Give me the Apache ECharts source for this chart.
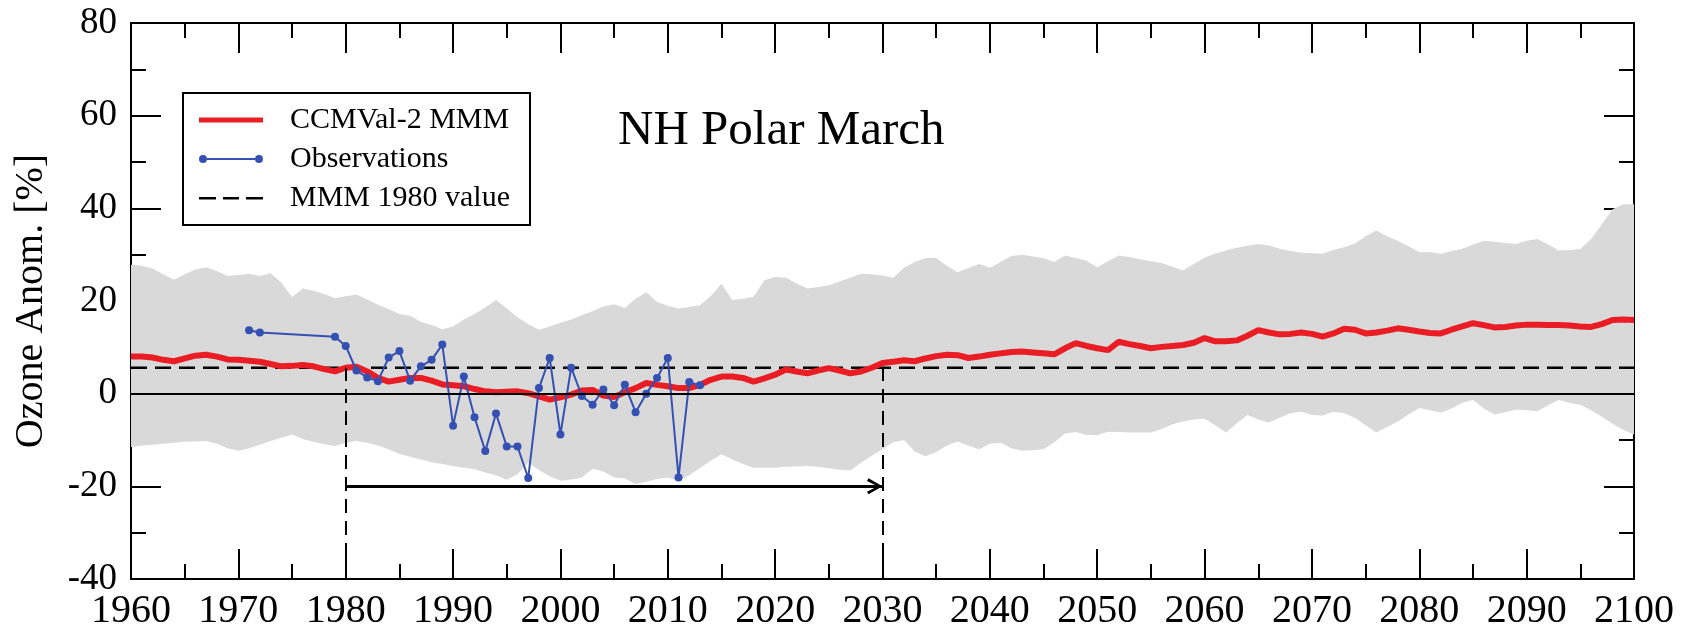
<!DOCTYPE html>
<html>
<head>
<meta charset="utf-8">
<script src="https://cdn.jsdelivr.net/npm/echarts@6/dist/echarts.min.js"></script>
<style>html,body{margin:0;padding:0;background:#fff}#c{width:1682px;height:631px}</style>
</head>
<body>
<div id="c"></div>
<script>
// Years 1960..2100 (annual)
const startYear = 1960;
const mmm = [8.0,8.0,7.8,7.3,7.0,7.6,8.2,8.4,8.0,7.4,
7.3,7.1,6.9,6.4,5.9,6.0,6.2,5.9,5.3,4.8,
5.6,5.8,4.8,3.4,2.6,3.0,3.4,3.4,2.8,2.0,
1.8,1.6,1.0,0.5,0.3,0.4,0.5,0.1,-0.6,-1.3,
-0.8,-0.2,0.7,0.8,-0.4,-0.7,0.3,1.2,2.3,1.9,
1.6,1.2,1.2,1.9,3.0,3.7,3.7,3.4,2.6,3.3,
4.1,5.2,4.8,4.4,5.0,5.5,5.0,4.4,4.8,5.6,
6.6,6.9,7.2,7.0,7.6,8.1,8.4,8.3,7.7,8.0,
8.4,8.7,9.0,9.1,8.9,8.7,8.5,9.8,10.9,10.3,
9.8,9.4,11.2,10.7,10.3,9.8,10.1,10.3,10.5,11.0,
12.0,11.3,11.3,11.5,12.5,13.7,13.2,12.8,12.9,13.2,
12.9,12.3,13.0,14.0,13.8,13.0,13.2,13.6,14.1,13.8,
13.4,13.1,13.0,13.8,14.5,15.2,14.8,14.3,14.4,14.7,
14.9,14.9,14.8,14.8,14.7,14.5,14.4,15.0,15.9,16.0,
15.9];
const bandUpper = [27.8,27.6,27.0,25.8,24.6,25.8,26.8,27.3,26.5,25.4,
25.6,25.9,25.4,26.0,24.0,20.8,22.7,22.2,21.5,20.6,
21.0,21.4,20.3,19.2,18.3,17.2,16.8,15.5,14.8,13.9,
14.5,16.0,17.2,18.6,20.2,18.4,16.5,15.0,13.8,14.5,
15.3,16.0,17.0,17.8,18.8,19.3,18.5,20.5,21.9,19.8,
19.0,18.4,18.7,19.1,21.0,23.7,20.2,20.5,20.9,24.5,
25.2,25.0,23.8,22.7,23.0,23.4,24.2,25.0,25.9,25.8,
25.5,25.0,27.2,28.4,29.3,29.3,27.6,26.2,27.1,28.0,
27.2,28.4,29.7,30.0,29.6,29.2,28.4,29.8,29.3,28.7,
27.3,28.6,29.8,29.5,29.0,28.6,28.2,27.4,26.6,28.0,
29.4,30.2,30.9,31.5,31.9,32.3,32.0,31.3,30.8,30.4,
30.3,30.2,31.0,31.6,32.4,34.0,35.2,34.0,33.0,31.8,
30.5,30.6,30.2,30.8,31.3,32.2,33.0,32.8,32.5,32.3,
33.0,33.4,32.2,30.9,31.0,31.2,33.4,36.5,39.8,40.9,
40.9];
const bandLower = [-11.5,-11.2,-11.0,-10.8,-10.6,-10.4,-10.3,-10.2,-10.8,-11.8,
-12.3,-11.8,-11.0,-10.2,-9.5,-8.8,-9.8,-10.4,-10.9,-11.3,
-10.6,-10.2,-10.6,-11.2,-12.0,-13.0,-13.6,-14.2,-14.8,-15.2,
-15.6,-16.0,-16.3,-17.0,-17.6,-18.6,-17.4,-14.9,-16.5,-17.8,
-18.8,-18.5,-18.1,-16.2,-16.8,-18.1,-18.3,-19.5,-19.0,-18.4,
-18.1,-18.8,-17.6,-16.0,-14.5,-13.1,-14.2,-15.2,-16.0,-16.0,
-16.0,-15.8,-15.7,-15.6,-15.8,-16.1,-16.4,-16.6,-14.9,-13.4,
-12.0,-10.5,-10.0,-12.5,-13.5,-12.6,-11.2,-10.3,-11.2,-12.0,
-10.8,-10.6,-11.8,-12.3,-12.2,-12.0,-10.5,-8.6,-8.3,-8.9,
-9.0,-8.2,-8.3,-8.4,-8.4,-8.4,-7.6,-6.6,-6.0,-5.6,
-5.4,-6.8,-8.4,-6.4,-4.6,-5.6,-6.2,-5.2,-4.2,-3.9,
-4.6,-4.7,-3.9,-4.2,-5.2,-6.8,-8.4,-7.2,-6.0,-4.5,
-3.1,-3.6,-4.1,-3.2,-2.0,-1.3,-3.2,-4.5,-4.0,-3.4,
-3.6,-3.8,-2.5,-1.3,-2.0,-2.4,-3.6,-5.0,-6.5,-7.8,
-8.8];
const obsYears = [1971,1972,1979,1980,1981,1982,1983,1984,1985,1986,1987,1988,1989,
1990,1991,1992,1993,1994,1995,1996,1997,1998,1999,2000,2001,2002,2003,2004,2005,
2006,2007,2008,2009,2010,2011,2012,2013];
const obsValues = [13.7,13.2,12.3,10.3,5.0,3.5,2.7,7.8,9.2,2.8,5.9,7.3,10.6,
-6.9,3.7,-5.1,-12.4,-4.3,-11.4,-11.4,-18.2,1.2,7.7,-8.8,5.6,-0.5,-2.4,0.9,-2.5,
1.9,-4.0,0.0,3.4,7.7,-18.1,2.5,1.8];
const mmm1980 = 5.6;
const returnYear = 2030;
const refYear = 1980;
const arrowLevel = -20;
const xTicks = {min: 1960, max: 2100, interval: 10};
const yTicks = {min: -40, max: 80, interval: 20};
const seriesNames = ['CCMVal-2 MMM', 'Observations', 'MMM 1980 value'];
const titleText = 'NH Polar March';
const yTitle = 'Ozone Anom. [%]';

const years = mmm.map((_, i) => startYear + i);
const mmmData = years.map((y, i) => [y, mmm[i]]);
const bandData = years.map((y, i) => [y, bandLower[i], bandUpper[i]]);
const obsData = obsYears.map((y, i) => [y, obsValues[i]]);
const refData = [[xTicks.min, mmm1980], [xTicks.max, mmm1980]];

const FONT = "'Liberation Serif', 'Times New Roman', Times, serif";
const RED = '#ea1c24';
const BLUE = '#3450b2';
const GRAY = '#d9d9d9';

const pad = 'M0,0L0.01,0M0,12L0.01,12M86,0L86.01,0';
const iconRed = 'path://' + pad + 'M0,3.5L64,3.5L64,8.5L0,8.5Z';
const iconBlue = 'path://' + pad + 'M0,6A4,4,0,1,0,8,6A4,4,0,1,0,0,6ZM8,5L56,5L56,7L8,7ZM56,6A4,4,0,1,0,64,6A4,4,0,1,0,56,6Z';
const iconDash = 'path://' + pad + 'M0,5L17,5L17,7.5L0,7.5ZM24,5L40,5L40,7.5L24,7.5ZM47,5L64,5L64,7.5L47,7.5Z';
const chevron = 'path://M8,-15.5L8.01,-15.5M8,0L16,14L13.4,15.5L8,5L2.6,15.5L0,14Z';

const axisLineStyle = {color: '#000', width: 2};
function xAxisDef(pos, labels) {
  return {
    type: 'value', position: pos, min: xTicks.min, max: xTicks.max, interval: xTicks.interval,
    axisLine: {show: true, onZero: false, lineStyle: axisLineStyle},
    axisTick: {show: true, inside: true, length: 30, lineStyle: {color: '#000', width: 2}},
    minorTick: {show: true, splitNumber: 2, length: 15, lineStyle: {color: '#000', width: 2}},
    splitLine: {show: false},
    axisLabel: {show: labels, margin: 12, fontFamily: FONT, fontSize: 40, color: '#000',
      showMinLabel: true, showMaxLabel: true, formatter: v => String(v)}
  };
}
function yAxisDef(pos, labels) {
  return {
    type: 'value', position: pos, min: yTicks.min, max: yTicks.max, interval: yTicks.interval,
    axisLine: {show: true, onZero: false, lineStyle: axisLineStyle},
    axisTick: {show: true, inside: true, length: 30, lineStyle: {color: '#000', width: 2}},
    minorTick: {show: true, splitNumber: 2, length: 15, lineStyle: {color: '#000', width: 2}},
    splitLine: {show: false},
    axisLabel: {show: labels, margin: 14, fontFamily: FONT, fontSize: 37, color: '#000',
      showMinLabel: true, showMaxLabel: true, formatter: v => String(v)},
    name: labels ? yTitle : '',
    nameLocation: 'middle', nameGap: 80,
    nameTextStyle: {fontFamily: FONT, fontSize: 40, color: '#000'}
  };
}

const chart = echarts.init(document.getElementById('c'), null, {renderer: 'canvas'});
chart.setOption({
  animation: false,
  backgroundColor: '#fff',
  title: {text: titleText, left: 613, top: 102,
    textStyle: {fontFamily: FONT, fontSize: 49, fontWeight: 'normal', color: '#000'}},
  grid: {left: 131, right: 48, top: 23, bottom: 49, containLabel: false},
  legend: {
    orient: 'vertical', left: 183, top: 93,
    padding: [12, 20, 12, 16], itemGap: 9, itemWidth: 86, itemHeight: 12,
    borderColor: '#000', borderWidth: 2, backgroundColor: '#fff',
    textStyle: {fontFamily: FONT, fontSize: 30, color: '#000'},
    itemStyle: {borderWidth: 0},
    selectedMode: false,
    data: [
      {name: seriesNames[0], icon: iconRed},
      {name: seriesNames[1], icon: iconBlue},
      {name: seriesNames[2], icon: iconDash}
    ]
  },
  xAxis: [xAxisDef('bottom', true), xAxisDef('top', false)],
  yAxis: [yAxisDef('left', true), yAxisDef('right', false)],
  series: [
    {
      name: 'band', type: 'custom', data: bandData, silent: true, z: 1, clip: true,
      encode: {x: 0, y: [1, 2]},
      renderItem: function (params, api) {
        if (params.dataIndex !== 0) return null;
        const pts = [];
        for (let i = 0; i < years.length; i++) pts.push(api.coord([years[i], bandUpper[i]]));
        for (let i = years.length - 1; i >= 0; i--) pts.push(api.coord([years[i], bandLower[i]]));
        return {type: 'polygon', shape: {points: pts}, style: {fill: GRAY, stroke: null}};
      }
    },
    {
      name: seriesNames[2], type: 'line', data: refData, symbol: 'none', z: 2,
      color: '#000',
      lineStyle: {color: '#000', width: 2.5, type: [16, 8]},
      markLine: {
        silent: true, symbol: 'none', label: {show: false},
        lineStyle: {color: '#000', width: 2, type: [14, 8]},
        data: [
          [{coord: [refYear, yTicks.min]}, {coord: [refYear, mmm1980]}],
          [{coord: [returnYear, yTicks.min]}, {coord: [returnYear, mmm1980]}],
          [{coord: [xTicks.min, 0], lineStyle: {type: 'solid', width: 2}},
           {coord: [xTicks.max, 0]}],
          [{coord: [refYear, arrowLevel], lineStyle: {type: 'solid', width: 3}, symbol: 'none'},
           {coord: [returnYear, arrowLevel], symbol: chevron, symbolSize: [16, 31]}]
        ]
      }
    },
    {
      name: seriesNames[0], type: 'line', data: mmmData, symbol: 'none', z: 3,
      color: RED, lineStyle: {color: RED, width: 6}
    },
    {
      name: seriesNames[1], type: 'line', data: obsData, symbol: 'circle', symbolSize: 8, z: 4,
      color: BLUE, lineStyle: {color: BLUE, width: 2}, itemStyle: {color: BLUE}
    }
  ]
});
</script>
</body>
</html>
